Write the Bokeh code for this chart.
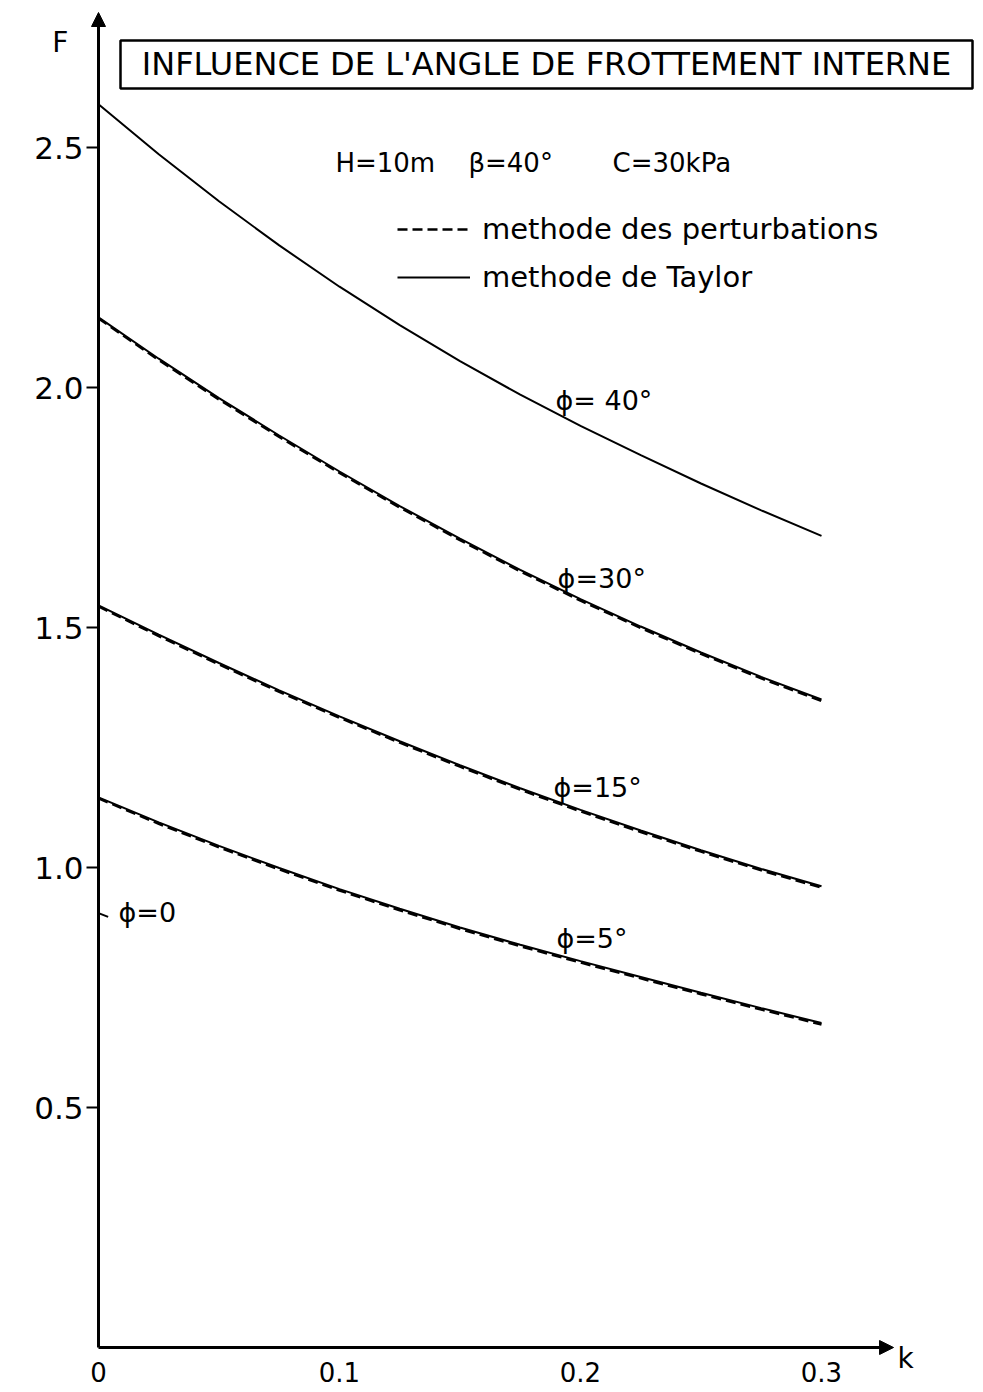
from bokeh.plotting import figure
from bokeh.models import (FixedTicker, Label, Arrow, NormalHead, BoxAnnotation,
                          Legend, LegendItem)
from bokeh.core.properties import value
from bokeh.embed import file_html
from bokeh.resources import INLINE

# ---------------- data ----------------
k = [0.0, 0.025, 0.05, 0.075, 0.10, 0.125, 0.15, 0.175, 0.20, 0.225, 0.25, 0.275, 0.30]

taylor_40 = [2.590, 2.486, 2.388, 2.296, 2.210, 2.130, 2.055, 1.985, 1.920, 1.859, 1.800, 1.744, 1.691]
taylor_30 = [2.146, 2.060, 1.978, 1.900, 1.825, 1.753, 1.685, 1.620, 1.559, 1.502, 1.448, 1.397, 1.350]
taylor_15 = [1.546, 1.485, 1.426, 1.369, 1.315, 1.263, 1.213, 1.165, 1.120, 1.077, 1.036, 0.997, 0.961]
taylor_5 = [1.146, 1.094, 1.045, 0.999, 0.955, 0.914, 0.875, 0.839, 0.805, 0.772, 0.739, 0.707, 0.676]

pert_30 = [2.144, 2.057, 1.975, 1.897, 1.822, 1.750, 1.682, 1.617, 1.556, 1.499, 1.445, 1.394, 1.347]
pert_15 = [1.544, 1.482, 1.423, 1.366, 1.312, 1.260, 1.210, 1.162, 1.117, 1.074, 1.033, 0.994, 0.958]
pert_5 = [1.144, 1.091, 1.042, 0.996, 0.952, 0.911, 0.872, 0.836, 0.802, 0.769, 0.736, 0.704, 0.673]

phi0_k = [0.0, 0.004]
phi0_F = [0.905, 0.897]

curve_labels = ["ϕ= 40°", "ϕ=30°", "ϕ=15°", "ϕ=5°", "ϕ=0"]
curve_label_k = [0.1896, 0.1905, 0.1888, 0.1900, 0.0083]
curve_label_F = [1.973, 1.602, 1.167, 0.852, 0.906]

params = ["H=10m", "β=40°", "C=30kPa"]
params_k = [0.0983, 0.1535, 0.2133]
params_F = [2.4667, 2.4667, 2.4667]

x_ticks = [0.0, 0.1, 0.2, 0.3]
x_tick_labels = ["0", "0.1", "0.2", "0.3"]
y_ticks = [0.5, 1.0, 1.5, 2.0, 2.5]
y_tick_labels = ["0.5", "1.0", "1.5", "2.0", "2.5"]

title_text = "INFLUENCE DE L'ANGLE DE FROTTEMENT INTERNE"
legend_dashed = "methode des perturbations"
legend_solid = "methode de Taylor"

FONT = "DejaVu Sans"

# ---------------- figure ----------------
p = figure(width=975, height=1392, x_range=(-0.040664, 0.363900), y_range=(-0.093750, 2.80625),
           output_backend="svg", toolbar_location=None,
           min_border_left=0, min_border_right=0, min_border_top=0, min_border_bottom=0)
p.outline_line_color = None
p.xgrid.grid_line_color = None
p.ygrid.grid_line_color = None
p.background_fill_color = "white"
p.border_fill_color = "white"

# axes: Bokeh axes pinned at k=0 / F=0 (ticks + labels); axis lines drawn as arrows
p.xaxis.fixed_location = 0.0
p.yaxis.fixed_location = 0.0
p.xaxis.ticker = FixedTicker(ticks=x_ticks)
p.xaxis.major_label_overrides = {t: s for t, s in zip(x_ticks, x_tick_labels)}
p.yaxis.ticker = FixedTicker(ticks=y_ticks)
p.yaxis.major_label_overrides = {t: s for t, s in zip(y_ticks, y_tick_labels)}
for ax in (p.xaxis, p.yaxis):
    ax.axis_line_color = None
    ax.minor_tick_line_color = None
    ax.major_tick_line_color = "black"
    ax.major_tick_line_width = 2
    ax.major_label_text_font = FONT
    ax.major_label_text_color = "black"
p.xaxis.major_tick_out = 0
p.xaxis.major_tick_in = 0
p.xaxis.major_label_standoff = 14
p.xaxis.major_label_text_font_size = "26px"
p.yaxis.major_tick_out = 12
p.yaxis.major_tick_in = 0
p.yaxis.major_label_standoff = 3
p.yaxis.major_label_text_font_size = "31px"

p.add_layout(Arrow(end=NormalHead(size=14, fill_color="black", line_color="black"),
                   x_start=0.0, y_start=0.0, x_end=0.3299, y_end=0.0,
                   line_width=3, line_color="black"))
p.add_layout(Arrow(end=NormalHead(size=14, fill_color="black", line_color="black"),
                   x_start=0.0, y_start=0.0, x_end=0.0, y_end=2.78125,
                   line_width=3, line_color="black"))

# curves
r40 = p.line(k, taylor_40, line_color="black", line_width=2)
r30 = p.line(k, taylor_30, line_color="black", line_width=2)
r15 = p.line(k, taylor_15, line_color="black", line_width=2)
r5 = p.line(k, taylor_5, line_color="black", line_width=2)
d30 = p.line(k, pert_30, line_color="black", line_width=2.5, line_dash="10 5")
d15 = p.line(k, pert_15, line_color="black", line_width=2.5, line_dash="10 5")
d5 = p.line(k, pert_5, line_color="black", line_width=2.5, line_dash="10 5")
p.line(phi0_k, phi0_F, line_color="black", line_width=2)

# curve labels
p.text(x=curve_label_k, y=curve_label_F, text=curve_labels,
       text_font=value(FONT), text_font_size="27px",
       text_align="left", text_baseline="middle", text_color="black")
# parameters
p.text(x=params_k, y=params_F, text=params,
       text_font=value(FONT), text_font_size="26px",
       text_align="left", text_baseline="middle", text_color="black")

# title box
p.add_layout(BoxAnnotation(left=0.00913, right=0.36266, bottom=2.6229, top=2.7229,
                           fill_alpha=0, line_color="black", line_alpha=1.0, line_width=2.5))
p.add_layout(Label(x=0.1859, y=2.673, text=title_text, text_align="center",
                   text_baseline="middle", text_font=FONT, text_font_size="32px",
                   text_color="black"))

# axis names
p.add_layout(Label(x=-0.0158, y=2.719, text="F", text_align="center",
                   text_baseline="middle", text_font=FONT, text_font_size="28px",
                   text_color="black"))
p.add_layout(Label(x=0.3349, y=-0.0229, text="k", text_align="center",
                   text_baseline="middle", text_font=FONT, text_font_size="28px",
                   text_color="black"))

# legend (screen offsets from the frame's bottom-left corner)
legend = Legend(items=[LegendItem(label=legend_dashed, renderers=[d30]),
                       LegendItem(label=legend_solid, renderers=[r40])],
                location=(397, 1098), border_line_color=None, background_fill_alpha=0,
                label_text_font=FONT, label_text_font_size="29px", label_text_color="black",
                glyph_width=73, glyph_height=34, label_height=34, spacing=14,
                padding=0, margin=0, label_standoff=12)
p.add_layout(legend)

open("out.html", "w").write(file_html(p, INLINE))
